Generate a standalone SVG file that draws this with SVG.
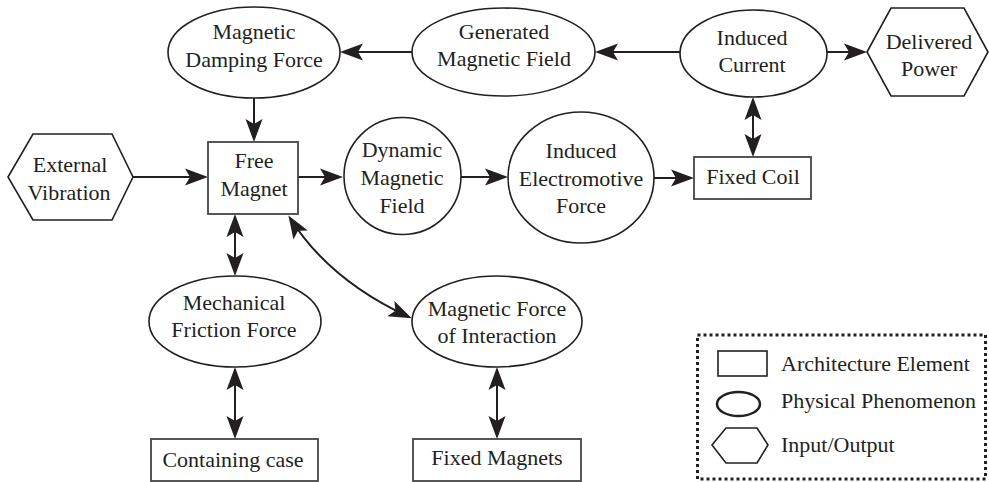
<svg xmlns="http://www.w3.org/2000/svg" width="989" height="482" viewBox="0 0 989 482">
<style>
text{font-family:"Liberation Serif",Times,"Times New Roman",serif;font-size:22px;fill:#231f20;text-anchor:middle}
.n{fill:#fff;stroke:#231f20;stroke-width:1.6}
.b{fill:#fff;stroke:#444;stroke-width:1.8}
.c{fill:none;stroke:#231f20;stroke-width:2}
.a{marker-end:url(#ah)}
.d{marker-end:url(#ah);marker-start:url(#ah)}
.lg{text-anchor:start}
</style>
<defs>
<marker id="ah" markerUnits="userSpaceOnUse" viewBox="-26 -12 30 24" refX="0" refY="0" markerWidth="30" markerHeight="24" orient="auto-start-reverse">
<path d="M3,0 L-20,-8.5 L-15,0 L-20,8.5 Z" fill="#231f20"/>
</marker>
</defs>
<g id="connectors">
<path class="c a" d="M412,52 H343"/>
<path class="c a" d="M680,52 H598"/>
<path class="c a" d="M827,52 H864"/>
<path class="c a" d="M254,98 V139"/>
<path class="c a" d="M133,177 H205"/>
<path class="c a" d="M298,177 H340"/>
<path class="c a" d="M461,177 H505"/>
<path class="c a" d="M654,178 H691"/>
<path class="c d" d="M753,100 V154"/>
<path class="c d" d="M235,217 V273"/>
<path class="c d" d="M290,218 Q329,280 409,317"/>
<path class="c d" d="M235,370 V436"/>
<path class="c d" d="M497,370 V436"/>
</g>
<g id="magnetic-damping-force">
<ellipse class="n" cx="254" cy="52.5" rx="86" ry="45.5"/>
<text x="254" y="39">Magnetic</text>
<text x="254" y="67">Damping Force</text>
</g>
<g id="generated-magnetic-field">
<ellipse class="n" cx="503.5" cy="52" rx="91.5" ry="44"/>
<text x="504" y="39">Generated</text>
<text x="504" y="66">Magnetic Field</text>
</g>
<g id="induced-current">
<ellipse class="n" cx="753.5" cy="53.5" rx="73.5" ry="43.5"/>
<text x="752" y="45">Induced</text>
<text x="752" y="72">Current</text>
</g>
<g id="delivered-power">
<polygon class="n" points="867,52 891,8 964,8 988,52 964,96 891,96"/>
<text x="929" y="49">Delivered</text>
<text x="929" y="76">Power</text>
</g>
<g id="external-vibration">
<polygon class="n" points="8,177 33,134 112,134 133,177 112,220 33,220"/>
<text x="70" y="172">External</text>
<text x="69" y="200">Vibration</text>
</g>
<g id="free-magnet">
<rect class="b" x="208" y="142" width="90" height="72"/>
<text x="254" y="168">Free</text>
<text x="254" y="196">Magnet</text>
</g>
<g id="dynamic-magnetic-field">
<ellipse class="n" cx="402.5" cy="176" rx="58.5" ry="58.5"/>
<text x="402" y="157">Dynamic</text>
<text x="402" y="185">Magnetic</text>
<text x="402" y="213">Field</text>
</g>
<g id="induced-electromotive-force">
<ellipse class="n" cx="581" cy="177.5" rx="73" ry="65.5"/>
<text x="581" y="158">Induced</text>
<text x="581" y="186">Electromotive</text>
<text x="581" y="213">Force</text>
</g>
<g id="fixed-coil">
<rect class="b" x="694" y="157" width="117" height="42"/>
<text x="753" y="184">Fixed Coil</text>
</g>
<g id="mechanical-friction-force">
<ellipse class="n" cx="235" cy="321.5" rx="86" ry="45.5"/>
<text x="234" y="310">Mechanical</text>
<text x="234" y="337">Friction Force</text>
</g>
<g id="magnetic-force-of-interaction">
<ellipse class="n" cx="497" cy="321.5" rx="85" ry="45.5"/>
<text x="497" y="316">Magnetic Force</text>
<text x="497" y="343">of Interaction</text>
</g>
<g id="containing-case">
<rect class="b" x="151" y="439" width="167" height="42"/>
<text x="233" y="467">Containing case</text>
</g>
<g id="fixed-magnets">
<rect class="b" x="413" y="439" width="168" height="42"/>
<text x="497" y="465">Fixed Magnets</text>
</g>
<g id="legend">
<rect x="697.5" y="335" width="288" height="144" fill="none" stroke="#231f20" stroke-width="3" stroke-dasharray="3 3"/>
<rect x="718" y="351" width="49" height="25" fill="none" stroke="#231f20" stroke-width="1.6"/>
<ellipse cx="738.5" cy="404" rx="21.5" ry="12" fill="none" stroke="#231f20" stroke-width="2.5"/>
<polygon points="712,445 726,428 757,428 768,445 757,463 726,463" fill="none" stroke="#231f20" stroke-width="1.6"/>
<text class="lg" x="781" y="371">Architecture Element</text>
<text class="lg" x="781" y="408">Physical Phenomenon</text>
<text class="lg" x="781" y="452">Input/Output</text>
</g>
</svg>
